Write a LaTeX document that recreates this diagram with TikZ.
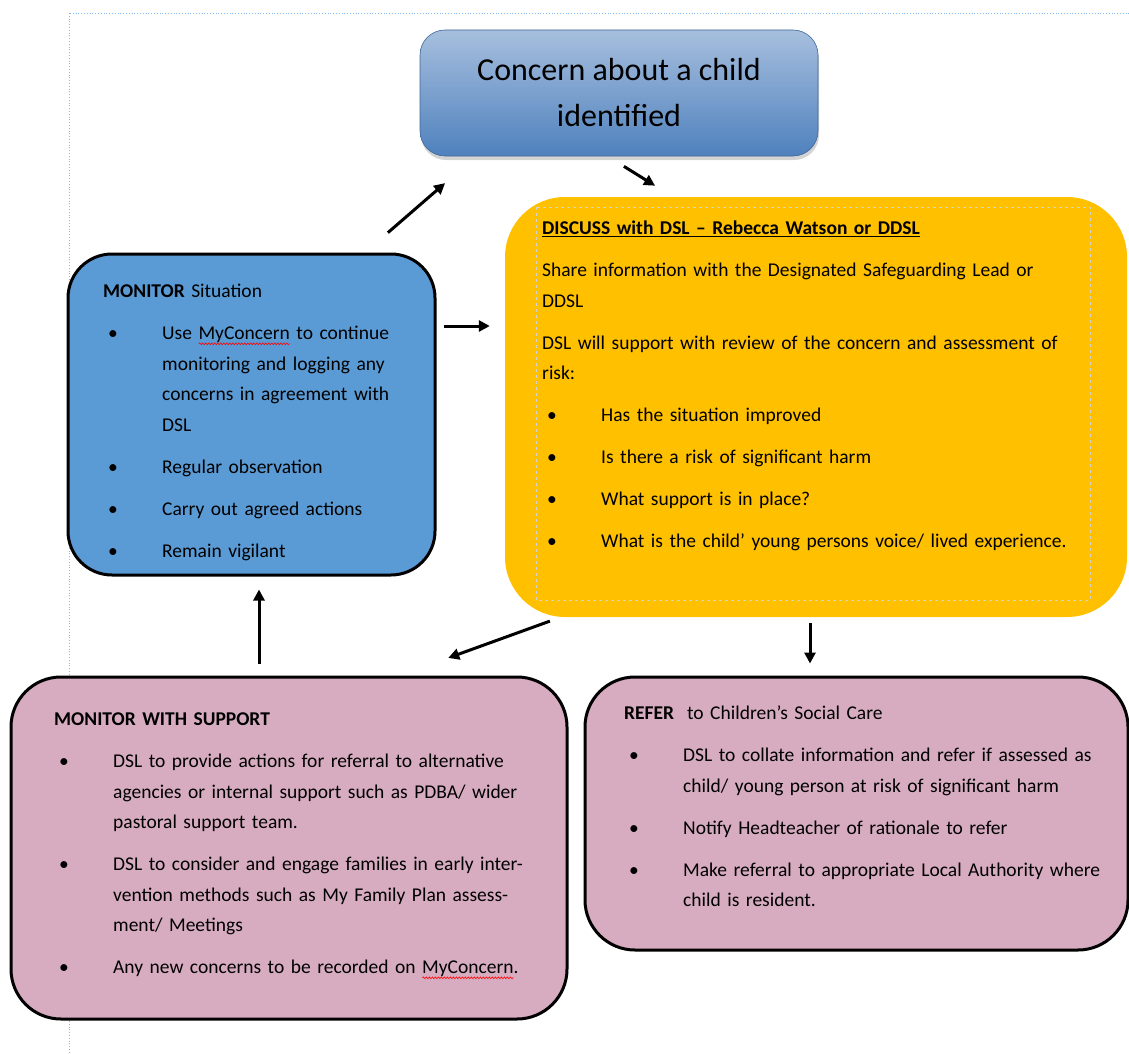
\documentclass[tikz,border=0pt]{standalone}
\usepackage{fontspec}
\setmainfont{Carlito}
\usetikzlibrary{arrows.meta,shadows,decorations.pathmorphing}

\definecolor{monitorblue}{RGB}{91,155,213}
\definecolor{discussgold}{RGB}{255,192,0}
\definecolor{supportpink}{RGB}{215,172,193}
\definecolor{concerntop}{RGB}{167,191,222}
\definecolor{concernbot}{RGB}{79,129,189}
\definecolor{marginblue}{RGB}{130,185,240}

\newsavebox{\wavebox}
\newlength{\wavelen}
\newcommand{\bodyset}{\fontsize{19.5}{30.5}\selectfont\setlength{\parskip}{11.5pt}}
\newcommand{\ttl}[1]{\par\noindent\strut#1\par}
\newcommand{\itm}[1]{\par\noindent\hangindent=59pt\hangafter=1\makebox[59pt][l]{\hspace{5pt}\textbullet}\strut#1\par}
\newcommand{\spellwave}[1]{\sbox{\wavebox}{#1}\setlength{\wavelen}{\wd\wavebox}%
  \makebox[0pt][l]{\tikz[baseline=0pt,x=1pt,y=1pt]\draw[red, line width=0.6pt, decorate,
    decoration={snake, amplitude=0.9pt, segment length=3pt}] (0pt,-4pt) -- (\wavelen,-4pt);}%
  \usebox{\wavebox}}

\tikzset{
  box/.style={rectangle, inner sep=0pt, line width=3pt, draw=black},
  body/.style={anchor=north west, inner sep=0pt, text width=600pt, font=\bodyset},
  flow/.style={line width=3pt, -{Triangle[length=11pt,width=11pt]}},
}

\begin{document}
\begin{tikzpicture}[x=1pt,y=-1pt]
  \useasboundingbox (0,0) rectangle (1129,1054);
  % page margin guides
  \draw[marginblue, dotted, line width=0.8pt] (70,13) -- (1129,13);
  \draw[marginblue, dotted, line width=0.8pt] (69,13) -- (69,1054);

  % boxes
  \node[rectangle, rounded corners=25pt, minimum width=398pt, minimum height=126pt,
        draw=concernbot!80!black, line width=0.6pt, top color=concerntop, bottom color=concernbot,
        drop shadow={shadow xshift=1pt, shadow yshift=-4pt, opacity=0.35},
        font=\fontsize{32}{46}\selectfont, align=center] (concern) at (619,93)
        {Concern about a child\\identified};
  \node[box, fill=monitorblue, rounded corners=44pt, minimum width=367pt, minimum height=321pt] (monitor) at (251.5,414.5) {};
  \node[rectangle, inner sep=0pt, fill=discussgold, rounded corners=60pt, minimum width=622pt, minimum height=420pt] (discuss) at (816,407) {};
  \draw[gray!35, dashed, line width=0.6pt] (536,207) rectangle (1090,600);
  \node[box, fill=supportpink, rounded corners=50pt, minimum width=556pt, minimum height=342pt] (support) at (289,848) {};
  \node[box, fill=supportpink, rounded corners=50pt, minimum width=543pt, minimum height=273pt] (refer) at (856.5,813.5) {};

  % texts
  \node[body] (monitortxt) at (103,255.6) {%
    \ttl{\textbf{MONITOR} Situation}
    \itm{Use \spellwave{MyConcern} to continue\newline monitoring and logging any\newline concerns in agreement with\newline DSL}
    \itm{Regular observation}
    \itm{Carry out agreed actions}
    \itm{Remain vigilant}};
  \node[body] (discusstxt) at (542,192.6) {%
    \ttl{\underline{\textbf{DISCUSS with DSL – Rebecca Watson or DDSL}}}
    \ttl{Share information with the Designated Safeguarding Lead or\newline DDSL}
    \ttl{DSL will support with review of the concern and assessment of\newline risk:}
    \itm{Has the situation improved}
    \itm{Is there a risk of significant harm}
    \itm{What support is in place?}
    \itm{What is the child’ young persons voice/ lived experience.}};
  \node[body] (supporttxt) at (54,683.6) {%
    \ttl{\textbf{MONITOR WITH SUPPORT}}
    \itm{DSL to provide actions for referral to alternative\newline agencies or internal support such as PDBA/ wider\newline pastoral support team.}
    \itm{DSL to consider and engage families in early inter-\newline vention methods such as My Family Plan assess-\newline ment/ Meetings}
    \itm{Any new concerns to be recorded on \spellwave{MyConcern}.}};
  \node[body] (refertxt) at (624,677.6) {%
    \ttl{\textbf{REFER}\ \ to Children’s Social Care}
    \itm{DSL to collate information and refer if assessed as\newline child/ young person at risk of significant harm}
    \itm{Notify Headteacher of rationale to refer}
    \itm{Make referral to appropriate Local Authority where\newline child is resident.}};

  % arrows
  \draw[flow, shorten <=30.3pt, shorten >=40.9pt] ([xshift=113.5pt]monitor.north) -- ([xshift=-143pt]concern.south);
  \draw[flow, shorten <=19.1pt, shorten >=21pt] ([xshift=-11.3pt]concern.south) -- ([xshift=-143.1pt]discuss.north);
  \draw[flow, shorten <=7pt, shorten >=15pt] ([yshift=88.5pt]monitor.east) -- ([yshift=88.5pt]monitor.east -| discuss.west);
  \draw[flow, shorten <=11.5pt, shorten >=51.6pt] ([xshift=-255.3pt]discuss.south) -- ([xshift=110.7pt]support.north);
  \draw[flow, shorten <=6pt, shorten >=12pt] ([xshift=-6pt]discuss.south) -- ([xshift=-6pt]discuss.south |- refer.north);
  \draw[flow, shorten <=12pt, shorten >=13pt] ([xshift=-30pt]support.north) -- ([xshift=-30pt]support.north |- monitor.south);
\end{tikzpicture}
\end{document}
